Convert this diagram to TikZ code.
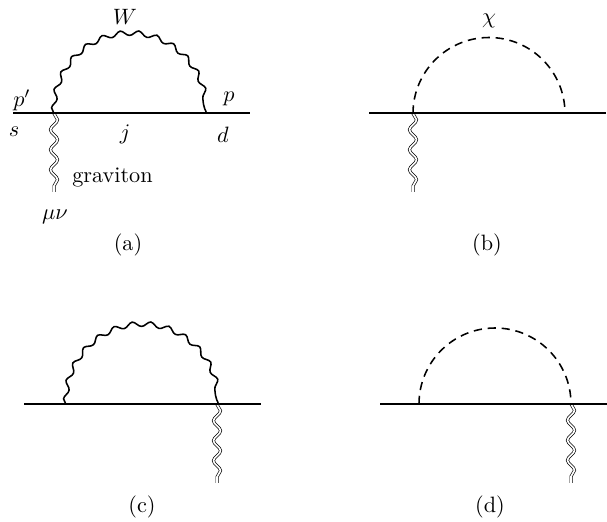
\documentclass[tikz,border=0pt]{standalone}
\usetikzlibrary{decorations.pathmorphing}
\tikzset{
  fermion/.style={line width=0.9pt},
  boson/.style={line width=0.7pt,decorate,decoration={snake,amplitude=1.1pt,segment length=8.15pt}},
  graviton/.style={double,double distance=0.75pt,line width=0.3pt,decorate,decoration={snake,amplitude=1.6pt,segment length=9pt,post length=1pt}},
  scalar/.style={line width=0.7pt,dash pattern=on 3.7pt off 2.6pt},
  half/.style={start angle=180,end angle=0,radius=34.2pt},
  lab/.style={inner sep=0pt,outer sep=0pt}
}
\begin{document}
\begin{tikzpicture}[x=0.45pt,y=-0.45pt]
\useasboundingbox (0,0) rectangle (607,522);
% (a)
\coordinate (a1) at (13,113.5); \coordinate (a2) at (250,113.5);
\coordinate (av) at (54,113.5); \coordinate (au) at (206,113.5); \coordinate (ag) at (54,192);
\draw[boson] (av) arc[half];
\draw[graviton] (av) -- (ag);
\draw[fermion] (a1) -- (a2);
\node[lab] (tw) at (125,17) {$W$};
\node[lab] (tp1) at (22,100) {$p'$};
\node[lab] (ts) at (14,132) {$s$};
\node[lab] (tj) at (125,134) {$j$};
\node[lab] (tp) at (229,99) {$p$};
\node[lab] (td) at (223,135) {$d$};
\node[lab] (tg) at (112.5,177) {graviton};
\node[lab] (tm) at (55,217) {$\mu\nu$};
\node[lab] (la) at (128,245) {(a)};
% (b)
\coordinate (b1) at (369,113.5); \coordinate (b2) at (606,113.5);
\coordinate (bv) at (413,113.5); \coordinate (bu) at (565,113.5); \coordinate (bg) at (413,192);
\draw[scalar] (bv) arc[half];
\draw[graviton] (bv) -- (bg);
\draw[fermion] (b1) -- (b2);
\node[lab] (tc) at (489,21) {$\chi$};
\node[lab] (lb) at (487,245) {(b)};
% (c)
\coordinate (c1) at (24,404.5); \coordinate (c2) at (261,404.5);
\coordinate (cv) at (66,404.5); \coordinate (cu) at (217,404.5); \coordinate (cg) at (217,483);
\draw[boson] (cv) arc[half];
\draw[graviton] (cu) -- (cg);
\draw[fermion] (c1) -- (c2);
\node[lab] (lc) at (142,507) {(c)};
% (d)
\coordinate (d1) at (380,404); \coordinate (d2) at (607,404);
\coordinate (dv) at (419,404); \coordinate (du) at (571,404); \coordinate (dg) at (571,483);
\draw[scalar] (dv) arc[half];
\draw[graviton] (du) -- (dg);
\draw[fermion] (d1) -- (d2);
\node[lab] (ld) at (490,507) {(d)};
\end{tikzpicture}
\end{document}
